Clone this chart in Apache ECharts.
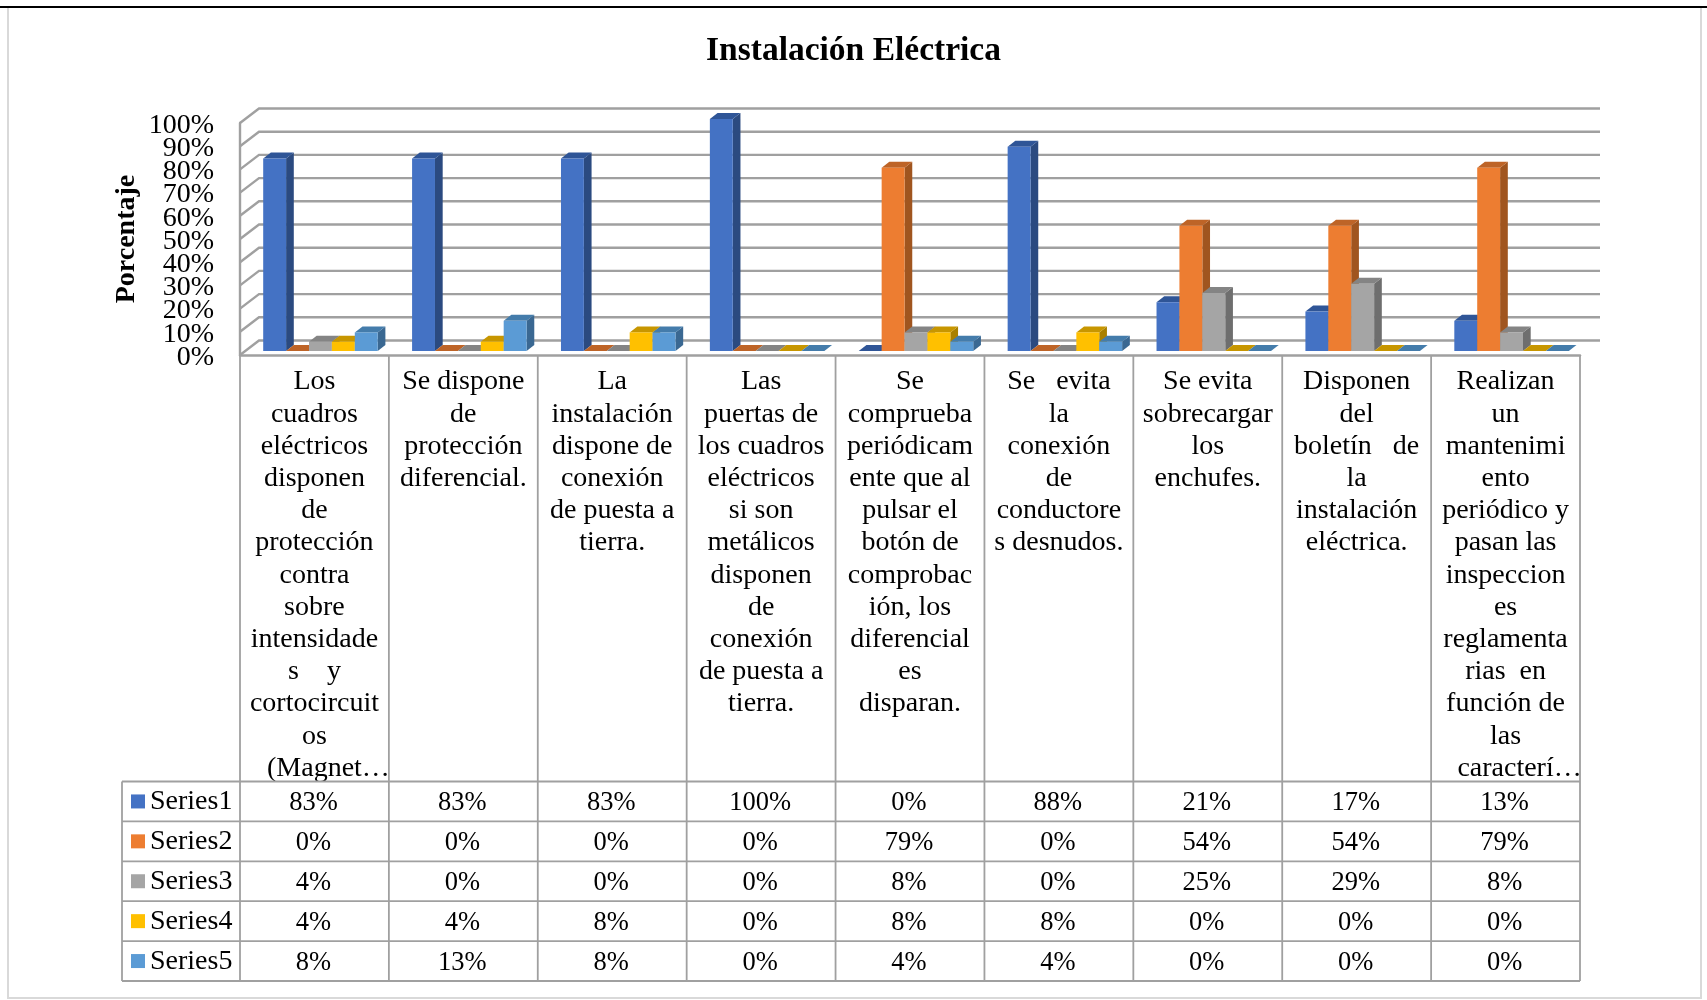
<!DOCTYPE html>
<html lang="es">
<head>
<meta charset="utf-8">
<title>Instalación Eléctrica</title>
<script src="https://cdn.jsdelivr.net/npm/echarts@6/dist/echarts.min.js"></script>
<style>
  html, body { margin: 0; padding: 0; background: #fff; }
  #chart { width: 1707px; height: 1000px; }
</style>
</head>
<body>
<div id="chart"></div>
<script>
// Category captions, wrapped the way the data table shows them
const categories = [
  'Los\ncuadros\neléctricos\ndisponen\nde\nprotección\ncontra\nsobre\nintensidade\ns    y\ncortocircuit\nos\n    (Magnet…',
  'Se dispone\nde\nprotección\ndiferencial.',
  'La\ninstalación\ndispone de\nconexión\nde puesta a\ntierra.',
  'Las\npuertas de\nlos cuadros\neléctricos\nsi son\nmetálicos\ndisponen\nde\nconexión\nde puesta a\ntierra.',
  'Se\ncomprueba\nperiódicam\nente que al\npulsar el\nbotón de\ncomprobac\nión, los\ndiferencial\nes\ndisparan.',
  'Se   evita\nla\nconexión\nde\nconductore\ns desnudos.',
  'Se evita\nsobrecargar\nlos\nenchufes.',
  'Disponen\ndel\nboletín   de\nla\ninstalación\neléctrica.',
  'Realizan\nun\nmantenimi\nento\nperiódico y\npasan las\ninspeccion\nes\nreglamenta\nrias  en\nfunción de\nlas\n    caracterí…'
];

const seriesNames = ['Series1', 'Series2', 'Series3', 'Series4', 'Series5'];
const series1 = [83, 83, 83, 100, 0, 88, 21, 17, 13];
const series2 = [0, 0, 0, 0, 79, 0, 54, 54, 79];
const series3 = [4, 0, 0, 0, 8, 0, 25, 29, 8];
const series4 = [4, 4, 8, 0, 8, 8, 0, 0, 0];
const series5 = [8, 13, 8, 0, 4, 4, 0, 0, 0];
const yTicks = [0, 10, 20, 30, 40, 50, 60, 70, 80, 90, 100];

const allSeries = [series1, series2, series3, series4, series5];
const faceColors = ['#4472C4', '#ED7D31', '#A5A5A5', '#FFC000', '#5B9BD5'];
const topColors = ['#2F5597', '#BE6427', '#848484', '#C79600', '#447CAB'];
const sideColors = ['#2B4A80', '#A0551F', '#6E6E6E', '#A98000', '#3A6892'];

const SERIF = '"Liberation Serif", "Times New Roman", serif';
const LINE = '#A0A0A0';

// Layout of the 3D box and of the table under it
const GRID = { left: 240, right: 127, top: 123, bottom: 645 };
const WALL_DX = 19, WALL_DY = 14.5;
const BAR_SHARE = 0.769, BAR_SHIFT_X = 6, BAR_SHIFT_Y = 4, BAR_DX = 7.7, BAR_DY = 6;
const TABLE_LEFT = 122, TABLE_TOP = 781.5, ROW_H = 39.9;
const VALUE_FONT = 26.5, NAME_FONT = 28, TICK_FONT = 28;
const TEXT_NUDGE = 1.5, TICK_GAP = 26, TICK_NUDGE = 2.5;

function textEl(text, x, y, align, size) {
  return {
    type: 'text',
    silent: true,
    style: { text, x, y, align, verticalAlign: 'middle', fill: '#000', fontFamily: SERIF, fontSize: size }
  };
}

// One prism per value, plus the value's cell in the table row of that series
function barRenderer(sIdx) {
  return function (params, api) {
    const cat = api.value(0), val = api.value(1);
    const top = api.coord([cat, val]);
    const base = api.coord([cat, 0]);
    const band = api.size([1, 0])[0];
    const total = band * BAR_SHARE, w = total / allSeries.length;
    const x = top[0] + BAR_SHIFT_X - total / 2 + sIdx * w;
    const yT = top[1] - BAR_SHIFT_Y, yB = base[1] - BAR_SHIFT_Y;
    const children = [];
    children.push({
      type: 'polygon', silent: true,
      shape: { points: [[x + w, yT], [x + w + BAR_DX, yT - BAR_DY], [x + w + BAR_DX, yB - BAR_DY], [x + w, yB]] },
      style: { fill: sideColors[sIdx] }
    });
    children.push({
      type: 'polygon', silent: true,
      shape: { points: [[x, yT], [x + BAR_DX, yT - BAR_DY], [x + w + BAR_DX, yT - BAR_DY], [x + w, yT]] },
      style: { fill: topColors[sIdx] }
    });
    if (val > 0) {
      children.push({
        type: 'rect', silent: true,
        shape: { x, y: yT, width: w, height: yB - yT },
        style: { fill: faceColors[sIdx] }
      });
    }
    const rowY = TABLE_TOP + (sIdx + 0.5) * ROW_H;
    children.push(textEl(val + '%', top[0] - 1, rowY + TEXT_NUDGE, 'center', VALUE_FONT));
    if (params.dataIndex === 0) {
      children.push({
        type: 'rect', silent: true,
        shape: { x: 131, y: rowY - 7, width: 14, height: 14 },
        style: { fill: faceColors[sIdx] }
      });
      children.push(textEl(seriesNames[sIdx], 150, rowY + TEXT_NUDGE - 1, 'left', NAME_FONT));
    }
    return { type: 'group', children };
  };
}

// Side wall diagonal, back wall line and the percentage label of each axis tick.
// The labels sit tighter than the axis' own overlap check allows, so they are drawn here.
function wallRenderer(params, api) {
  const tick = api.value(0);
  const y = api.coord([0, tick])[1];
  const rect = params.coordSys;
  return {
    type: 'group',
    children: [
      {
        type: 'polyline', silent: true,
        shape: { points: [[rect.x, y], [rect.x + WALL_DX, y - WALL_DY], [rect.x + rect.width + WALL_DX + 1, y - WALL_DY]] },
        style: { stroke: LINE, lineWidth: 2.4, fill: null }
      },
      textEl(tick + '%', rect.x - TICK_GAP, y + TICK_NUDGE, 'right', TICK_FONT)
    ]
  };
}

// Ruling of the data table
function tableRenderer(params) {
  const rect = params.coordSys;
  const bottom = TABLE_TOP + ROW_H * allSeries.length;
  const right = rect.x + rect.width;
  const band = rect.width / categories.length;
  const children = [];
  const seg = (x1, y1, x2, y2) => children.push({
    type: 'line', silent: true,
    shape: { x1, y1, x2, y2 },
    style: { stroke: LINE, lineWidth: 1.8 }
  });
  for (let i = 0; i <= categories.length; i++) {
    const x = rect.x + i * band;
    seg(x, rect.y + rect.height, x, bottom);
  }
  seg(TABLE_LEFT, TABLE_TOP, TABLE_LEFT, bottom);
  for (let r = 0; r <= allSeries.length; r++) {
    const y = TABLE_TOP + r * ROW_H;
    seg(TABLE_LEFT, y, right, y);
  }
  return { type: 'group', children };
}

const chart = echarts.init(document.getElementById('chart'), null, { renderer: 'canvas' });

chart.setOption({
  animation: false,
  backgroundColor: '#fff',
  tooltip: { show: false },
  title: {
    text: 'Instalación Eléctrica',
    left: 'center',
    top: 29,
    textStyle: { fontFamily: SERIF, fontSize: 33.5, fontWeight: 'bold', color: '#000' }
  },
  graphic: [
    { type: 'rect', z: -10, shape: { x: 8, y: 7, width: 1693, height: 991 }, style: { fill: '#fff', stroke: '#D9D9D9', lineWidth: 2 } },
    { type: 'line', z: -9, shape: { x1: 0, y1: 7, x2: 1707, y2: 7 }, style: { stroke: '#000', lineWidth: 2 } }
  ],
  grid: GRID,
  xAxis: {
    type: 'category',
    data: categories,
    axisTick: { show: false },
    axisLine: { show: true, lineStyle: { color: LINE, width: 2.5 } },
    axisLabel: {
      interval: 0,
      margin: 11,
      fontFamily: SERIF,
      fontSize: 28,
      lineHeight: 32.2,
      color: '#000',
      verticalAlign: 'top',
      align: 'center'
    }
  },
  yAxis: {
    type: 'value',
    min: yTicks[0],
    max: yTicks[yTicks.length - 1],
    interval: yTicks[1] - yTicks[0],
    name: 'Porcentaje',
    nameLocation: 'middle',
    nameRotate: 90,
    nameGap: 99,
    nameTextStyle: { fontFamily: SERIF, fontSize: 28, fontWeight: 'bold', color: '#000' },
    axisLine: { show: true, lineStyle: { color: LINE, width: 2.4 } },
    axisTick: { show: false },
    splitLine: { show: false },
    axisLabel: { show: false }
  },
  series: [
    {
      type: 'custom',
      name: 'walls',
      coordinateSystem: 'cartesian2d',
      z: 1,
      encode: { y: 0 },
      data: yTicks.map(t => [t]),
      renderItem: wallRenderer
    },
    {
      type: 'custom',
      name: 'table',
      coordinateSystem: 'cartesian2d',
      z: 1,
      data: [[0, 0]],
      renderItem: tableRenderer
    }
  ].concat(allSeries.map((values, sIdx) => ({
    type: 'custom',
    name: seriesNames[sIdx],
    coordinateSystem: 'cartesian2d',
    z: 3,
    encode: { x: 0, y: 1 },
    data: values.map((v, i) => [i, v]),
    renderItem: barRenderer(sIdx)
  })))
});
</script>
</body>
</html>
